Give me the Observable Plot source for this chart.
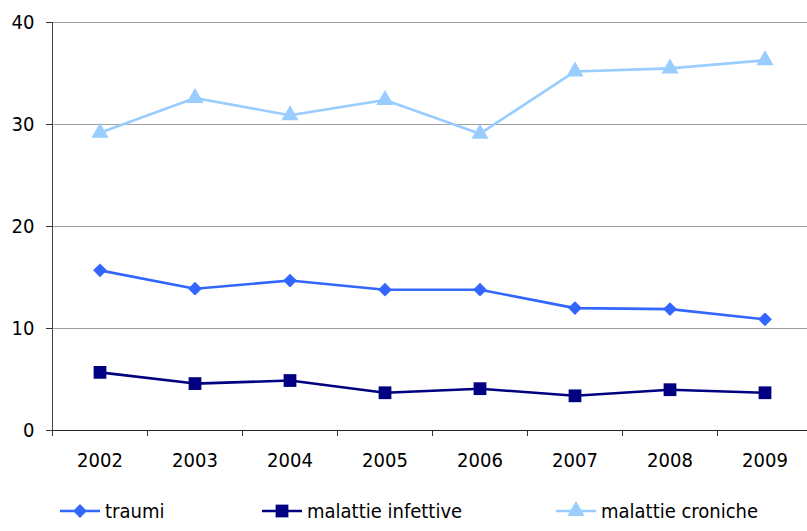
<!DOCTYPE html>
<html><head><meta charset="utf-8">
<script src="https://cdn.jsdelivr.net/npm/d3@7"></script>
<script src="https://cdn.jsdelivr.net/npm/@observablehq/plot@0.6"></script>
<style>
body{margin:0;background:#fff;font-family:"DejaVu Sans Condensed","DejaVu Sans",sans-serif;}
#legend{position:relative;height:41px;width:807px;font-size:20px;color:#000;}
.item{position:absolute;top:0;height:41px;display:flex;align-items:center;white-space:nowrap;}
.item svg{margin-right:5px;}
</style></head>
<body><div id="chart"></div><div id="legend"></div>
<script>
const years = ["2002","2003","2004","2005","2006","2007","2008","2009"];
const seriesNames = ["traumi","malattie infettive","malattie croniche"];
const traumi = [15.7, 13.9, 14.7, 13.8, 13.8, 12.0, 11.9, 10.9];
const malattieInfettive = [5.7, 4.6, 4.9, 3.7, 4.1, 3.4, 4.0, 3.7];
const malattieCroniche = [29.2, 32.6, 30.9, 32.4, 29.1, 35.2, 35.5, 36.3];
const yTicks = [0, 10, 20, 30, 40];

const colors = ["#3366FF", "#000080", "#99CCFF"];
const symbols = ["diamond2", "square", "triangle"];
const radii = [6.2, 7.2, 6.4];
const valuesList = [traumi, malattieInfettive, malattieCroniche];

const data = [];
seriesNames.forEach((name, s) => {
  valuesList[s].forEach((v, i) => data.push({series: name, year: years[i], idx: i + 0.5, value: v}));
});

const font = '"DejaVu Sans Condensed","DejaVu Sans",sans-serif';
const marks = [
  Plot.ruleY(yTicks.filter(d => d > 0), {stroke: "#A0A0A0", strokeWidth: 1}),
  Plot.axisY({ticks: yTicks, tickSize: 6, tickPadding: 12, stroke: "#333", label: null, fontSize: 20}),
  Plot.axisX({ticks: d3.range(years.length + 1), tickSize: 6, tickFormat: () => "", stroke: "#333", label: null}),
  Plot.axisX({ticks: years.map((d, i) => i + 0.5), tickSize: 0, tickPadding: 22, tickFormat: v => years[Math.floor(v)], label: null, fontSize: 20}),
  Plot.ruleX([0], {y1: 0, y2: 40, stroke: "#444"}),
  Plot.ruleY([0], {stroke: "#222"})
];
seriesNames.forEach((name, s) => {
  const rows = data.filter(d => d.series === name);
  marks.push(Plot.line(rows, {x: "idx", y: "value", stroke: colors[s], strokeWidth: 2.6}));
  marks.push(Plot.dot(rows, {x: "idx", y: "value", fill: colors[s], stroke: "none", symbol: () => symbols[s], r: radii[s]}));
});

const chart = Plot.plot({
  width: 807, height: 490,
  marginLeft: 52, marginTop: 22, marginBottom: 60, marginRight: 0,
  x: {type: "linear", domain: [0, years.length], range: [52, 812]},
  y: {domain: [0, 40]},
  symbol: {type: "identity"},
  style: {fontFamily: font, fontSize: "20px", color: "#000", background: "#fff", overflow: "visible"},
  marks
});
document.getElementById("chart").appendChild(chart);

// legend
const lefts = [60, 262, 556];
const legend = document.getElementById("legend");
seriesNames.forEach((name, s) => {
  const item = document.createElement("div");
  item.className = "item";
  item.style.left = lefts[s] + "px";
  const ns = "http://www.w3.org/2000/svg";
  const svg = document.createElementNS(ns, "svg");
  svg.setAttribute("width", 40); svg.setAttribute("height", 20);
  const line = document.createElementNS(ns, "line");
  line.setAttribute("x1", 0); line.setAttribute("x2", 40); line.setAttribute("y1", 10); line.setAttribute("y2", 10);
  line.setAttribute("stroke", colors[s]); line.setAttribute("stroke-width", 2.6);
  svg.appendChild(line);
  const sym = {diamond2: d3.symbolDiamond2, square: d3.symbolSquare, triangle: d3.symbolTriangle}[symbols[s]];
  const p = document.createElementNS(ns, "path");
  p.setAttribute("d", d3.symbol(sym, Math.PI * radii[s] * radii[s])());
  p.setAttribute("transform", "translate(20,10)");
  p.setAttribute("fill", colors[s]);
  svg.appendChild(p);
  item.appendChild(svg);
  const t = document.createElement("span");
  t.textContent = name;
  item.appendChild(t);
  legend.appendChild(item);
});
</script>
</body></html>
